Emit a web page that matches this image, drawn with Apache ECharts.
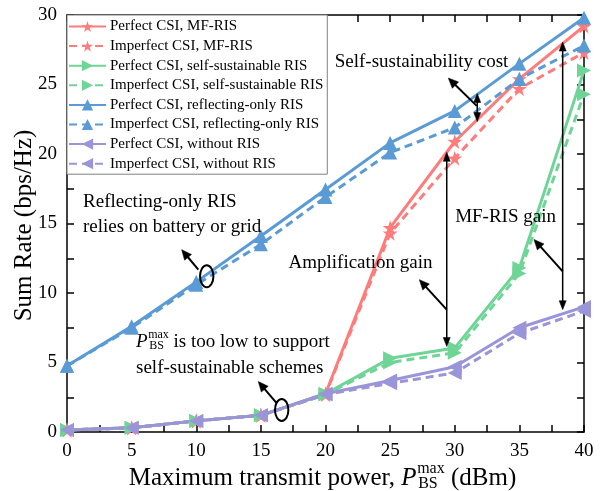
<!DOCTYPE html>
<html>
<head>
<meta charset="utf-8">
<script src="https://cdn.jsdelivr.net/npm/echarts@6/dist/echarts.min.js"></script>
<style>
  html, body { margin: 0; padding: 0; background: #fff; }
  #chart { width: 600px; height: 491px; }
</style>
</head>
<body>
<div id="chart"></div>
<script>
// Maximum BS transmit power (dBm)
const powerDbm = [0, 5, 10, 15, 20, 25, 30, 35, 40];

// Sum rate (bps/Hz) for each scheme
const mfPerfect    = [0.15, 0.3, 0.8, 1.2, 2.75, 14.7, 20.9, 25.4, 29.2];
const mfImperfect  = [0.15, 0.3, 0.8, 1.2, 2.7, 14.3, 19.7, 24.7, 27.3];
const ssPerfect    = [0.15, 0.3, 0.8, 1.2, 2.75, 5.3, 6.05, 11.8, 26.0];
const ssImperfect  = [0.15, 0.3, 0.8, 1.2, 2.7, 5.0, 5.7, 11.4, 24.3];
const roPerfect    = [4.76, 7.6, 10.8, 14.1, 17.45, 20.8, 23.1, 26.5, 29.8];
const roImperfect  = [4.76, 7.5, 10.6, 13.5, 16.9, 20.1, 21.9, 25.4, 27.8];
const noPerfect    = [0.15, 0.3, 0.8, 1.2, 2.75, 3.7, 4.7, 7.5, 9.0];
const noImperfect  = [0.15, 0.3, 0.8, 1.2, 2.7, 3.5, 4.25, 7.1, 8.7];

const seriesNames = [
  'Perfect CSI, MF-RIS',
  'Imperfect CSI, MF-RIS',
  'Perfect CSI, self-sustainable RIS',
  'Imperfect CSI, self-sustainable RIS',
  'Perfect CSI, reflecting-only RIS',
  'Imperfect CSI, reflecting-only RIS',
  'Perfect CSI, without RIS',
  'Imperfect CSI, without RIS'
];

// Annotation geometry, in axis units (dBm, bps/Hz)
const doubleArrows = [
  { x: 31.74, y1: 24.35, y2: 22.33 },   // self-sustainability cost
  { x: 29.38, y1: 20.12, y2: 6.15 },    // MF-RIS gain at 30 dBm
  { x: 38.35, y1: 28.05, y2: 8.80 }     // MF-RIS gain at 40 dBm
];
const pointerArrows = [
  { from: [31.70, 23.46], to: [29.50, 25.46] },
  { from: [38.35, 11.56], to: [36.13, 13.85] },
  { from: [29.38, 8.80],  to: [27.26, 10.96] },
  { from: [10.16, 11.68], to: [8.87, 13.12] },
  { from: [16.22, 2.07],  to: [14.80, 3.63] }
];
const ellipses = [[10.81, 11.20], [16.61, 1.59]];
const centeredNotes = [
  { text: 'Self-sustainability cost', at: [27.43, 26.59] },
  { text: 'MF-RIS gain', at: [33.93, 15.50] },
  { text: 'Amplification gain', at: [22.71, 12.19] }
];
const leftNotes = [
  { text: 'Reflecting-only RIS', at: [1.24, 16.51] },
  { text: 'relies on battery or grid', at: [1.24, 14.78] },
  { text: 'self-sustainable schemes', at: [5.34, 4.62] }
];
const pbsNoteAt = [5.34, 6.49];

const SERIF = '"Liberation Serif", "Times New Roman", serif';
const RED = '#FF7C7C', GREEN = '#6FD596', BLUE = '#5B9BD5', PURPLE = '#9A94D8';
const STAR = 'path://M50,0 L61.2,34.5 L97.6,34.5 L68.2,55.9 L79.4,90.5 L50,69.1 L20.6,90.5 L31.8,55.9 L2.4,34.5 L38.8,34.5 Z';

function makeSeries(name, values, color, dashed, symbol, rotate, size) {
  return {
    name: name,
    type: 'line',
    data: powerDbm.map((p, i) => [p, values[i]]),
    symbol: symbol,
    symbolRotate: rotate,
    symbolSize: size,
    showAllSymbol: true,
    lineStyle: { color: color, width: 3, type: dashed ? [8, 5] : 'solid' },
    itemStyle: { color: color },
    emphasis: { disabled: true },
    animation: false
  };
}

const chart = echarts.init(document.getElementById('chart'), null, { renderer: 'canvas' });

const axisCommon = {
  type: 'value',
  axisLine: { show: true, onZero: false, lineStyle: { color: '#000', width: 1.5 } },
  axisTick: { show: true, inside: true, length: 7, lineStyle: { color: '#000', width: 1.5 } },
  minorTick: { show: true, splitNumber: 2, length: 7, lineStyle: { color: '#000', width: 1.5 } },
  splitLine: { show: false },
  minorSplitLine: { show: false }
};
const labelStyle = { show: true, color: '#000', fontSize: 19, fontFamily: SERIF, margin: 10 };

chart.setOption({
  animation: false,
  backgroundColor: '#fff',
  grid: { left: 67, right: 16, top: 15, bottom: 59, containLabel: false },
  xAxis: [
    Object.assign({}, axisCommon, { min: 0, max: 40, interval: 5, position: 'bottom', axisLabel: labelStyle }),
    Object.assign({}, axisCommon, { min: 0, max: 40, interval: 5, position: 'top', axisLabel: { show: false } })
  ],
  yAxis: [
    Object.assign({}, axisCommon, { min: 0, max: 30, interval: 5, position: 'left', axisLabel: labelStyle }),
    Object.assign({}, axisCommon, { min: 0, max: 30, interval: 5, position: 'right', axisLabel: { show: false } })
  ],
  legend: {
    orient: 'vertical',
    left: 67,
    top: 15,
    padding: [4, 4, 3, 1],
    itemGap: 4.6,
    itemWidth: 37,
    itemHeight: 14,
    backgroundColor: '#fff',
    borderColor: '#808080',
    borderWidth: 1,
    textStyle: { color: '#000', fontSize: 15, fontFamily: SERIF, padding: [0, 0, 0, -1] },
    data: seriesNames,
    selectedMode: false
  },
  series: [
    makeSeries(seriesNames[0], mfPerfect, RED, false, STAR, 0, 15),
    makeSeries(seriesNames[1], mfImperfect, RED, true, STAR, 0, 15),
    makeSeries(seriesNames[2], ssPerfect, GREEN, false, 'triangle', -90, 14),
    makeSeries(seriesNames[3], ssImperfect, GREEN, true, 'triangle', -90, 14),
    makeSeries(seriesNames[4], roPerfect, BLUE, false, 'triangle', 0, 14),
    makeSeries(seriesNames[5], roImperfect, BLUE, true, 'triangle', 0, 14),
    makeSeries(seriesNames[6], noPerfect, PURPLE, false, 'triangle', 90, 14),
    makeSeries(seriesNames[7], noImperfect, PURPLE, true, 'triangle', 90, 14)
  ]
});

// ---------- annotations and axis titles ----------
const measureCtx = document.createElement('canvas').getContext('2d');
function textWidth(str, size, italic) {
  measureCtx.font = (italic ? 'italic ' : '') + size + 'px ' + SERIF;
  return measureCtx.measureText(str).width;
}
const px = (pt) => chart.convertToPixel({ gridIndex: 0 }, pt);

function textEl(str, x, y, size, opts) {
  opts = opts || {};
  return {
    type: 'text', z: 100, silent: true,
    rotation: opts.rotation || 0,
    x: opts.rotation ? x : 0, y: opts.rotation ? y : 0,
    style: {
      text: str,
      x: opts.rotation ? 0 : x, y: opts.rotation ? 0 : y,
      fill: '#000',
      fontSize: size,
      fontFamily: SERIF,
      fontStyle: opts.italic ? 'italic' : 'normal',
      align: opts.align || 'left', textAlign: opts.align || 'left',
      verticalAlign: 'middle', textVerticalAlign: 'middle'
    }
  };
}

function arrowHead(tip, from, len, half) {
  const dx = tip[0] - from[0], dy = tip[1] - from[1];
  const d = Math.hypot(dx, dy) || 1;
  const ux = dx / d, uy = dy / d;
  const bx = tip[0] - ux * len, by = tip[1] - uy * len;
  return {
    type: 'polygon', z: 100, silent: true,
    shape: { points: [tip, [bx - uy * half, by + ux * half], [bx + uy * half, by - ux * half]] },
    style: { fill: '#000', stroke: '#000', lineWidth: 0.5 }
  };
}

function lineEl(a, b, w) {
  return {
    type: 'line', z: 100, silent: true,
    shape: { x1: a[0], y1: a[1], x2: b[0], y2: b[1] },
    style: { stroke: '#000', lineWidth: w }
  };
}

// text run with P^{max}_{BS}: returns elements, starting at left x, centred on y
function pbsRun(before, after, left, y, size) {
  const els = [];
  let x = left;
  const small = Math.round(size * 0.62);
  if (before) { els.push(textEl(before, x, y, size)); x += textWidth(before, size); }
  els.push(textEl('P', x, y, size, { italic: true }));
  x += textWidth('P', size, true) + 0.5;
  els.push(textEl('max', x, y - size * 0.36, small));
  els.push(textEl('BS', x + 1, y + size * 0.22, small));
  x += Math.max(textWidth('max', small), textWidth('BS', small) + 1);
  els.push(textEl(after, x, y, size));
  return els;
}

const g = [];
const NOTE = 19;

doubleArrows.forEach(a => {
  const top = px([a.x, a.y1]), bot = px([a.x, a.y2]);
  g.push(lineEl([top[0], top[1] + 6], [bot[0], bot[1] - 6], 1.5));
  g.push(arrowHead(top, bot, 9, 3.5));
  g.push(arrowHead(bot, top, 9, 3.5));
});
pointerArrows.forEach(a => {
  const f = px(a.from), t = px(a.to);
  const dx = t[0] - f[0], dy = t[1] - f[1], d = Math.hypot(dx, dy);
  g.push(lineEl(f, [t[0] - dx / d * 6, t[1] - dy / d * 6], 2));
  g.push(arrowHead(t, f, 10, 4.5));
});
ellipses.forEach(c => {
  const p = px(c);
  g.push({ type: 'ellipse', z: 100, silent: true,
    shape: { cx: p[0], cy: p[1], rx: 6.7, ry: 11 },
    style: { fill: 'none', stroke: '#000', lineWidth: 2 } });
});
centeredNotes.forEach(n => {
  const p = px(n.at);
  g.push(textEl(n.text, p[0], p[1], NOTE, { align: 'center' }));
});
leftNotes.forEach(n => {
  const p = px(n.at);
  g.push(textEl(n.text, p[0], p[1], NOTE));
});
const pb = px(pbsNoteAt);
pbsRun('', ' is too low to support', pb[0], pb[1], NOTE).forEach(e => g.push(e));

// axis titles
const TITLE = 25;
const xTitleBefore = 'Maximum transmit power, ';
const xTitleAfter = ' (dBm)';
const xTitleWidth = textWidth(xTitleBefore, TITLE) + textWidth('P', TITLE, true) + 0.5 +
  textWidth('max', Math.round(TITLE * 0.62)) + textWidth(xTitleAfter, TITLE);
const gridRect = chart.getModel().getComponent('grid', 0).coordinateSystem.getRect();
const xCenter = gridRect.x + gridRect.width / 2 - 3;
pbsRun(xTitleBefore, xTitleAfter, xCenter - xTitleWidth / 2, 478, TITLE).forEach(e => g.push(e));
g.push(textEl('Sum Rate (bps/Hz)', 24, gridRect.y + gridRect.height / 2 + 2, TITLE,
  { align: 'center', rotation: Math.PI / 2 }));

chart.setOption({ graphic: { elements: g } });
</script>
</body>
</html>
